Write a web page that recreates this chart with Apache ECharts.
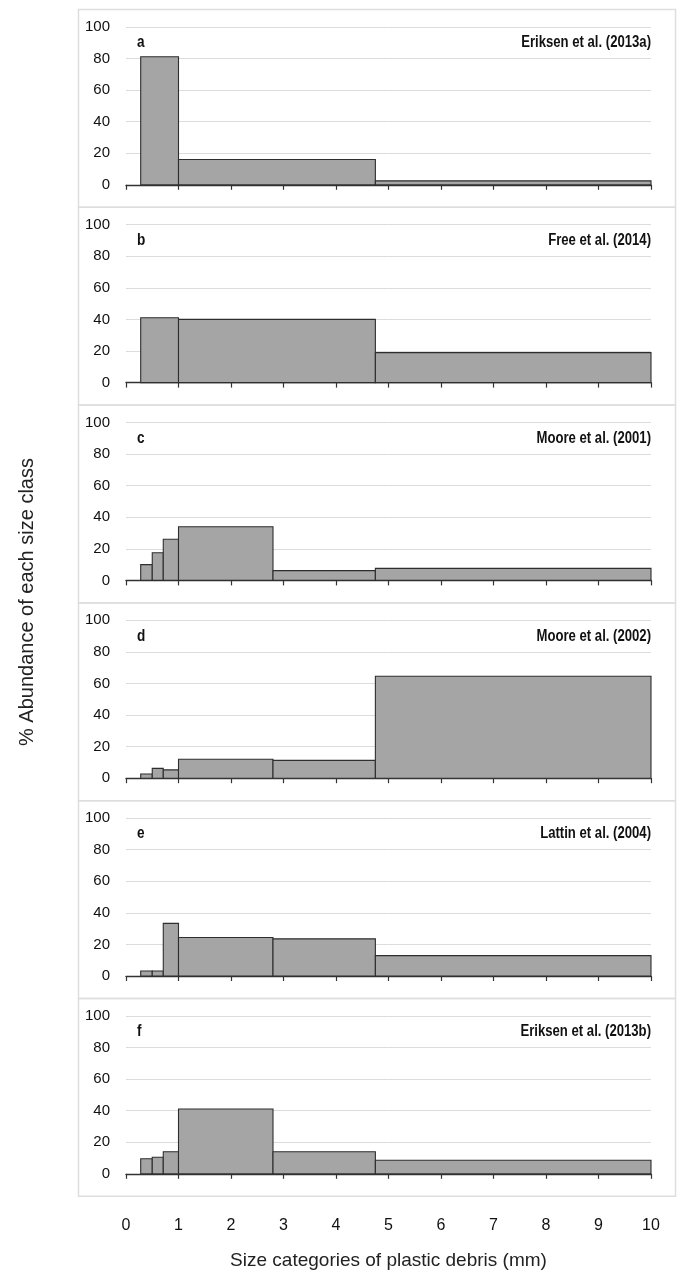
<!DOCTYPE html>
<html>
<head>
<meta charset="utf-8">
<script src="https://cdn.jsdelivr.net/npm/echarts@6/dist/echarts.min.js"></script>
<style>
html, body { margin: 0; padding: 0; background: #fff; }
#chart { width: 678px; height: 1278px; }
</style>
</head>
<body>
<div id="chart"></div>
<script>
// size class edges (mm)
const edgesFine = [0.28, 0.5, 0.71, 1, 2.8, 4.75, 10]
const edgesCoarse = [0.28, 1, 4.75, 10]

const panelLetters = ['a', 'b', 'c', 'd', 'e', 'f']
const panelSources = [
  'Eriksen et al. (2013a)',
  'Free et al. (2014)',
  'Moore et al. (2001)',
  'Moore et al. (2002)',
  'Lattin et al. (2004)',
  'Eriksen et al. (2013b)'
]

// % abundance per size class
const valuesA = [81, 16, 2.5]
const valuesB = [41, 40, 19]
const valuesC = [10, 17.5, 26, 34, 6.2, 7.6]
const valuesD = [2.7, 6.2, 5.3, 12, 11.3, 64.5]
const valuesE = [3.2, 3.2, 33.3, 24.4, 23.5, 12.9]
const valuesF = [9.5, 10.5, 14, 41, 14, 8.6]

const xTicks = [0, 1, 2, 3, 4, 5, 6, 7, 8, 9, 10]
const yTicks = [0, 20, 40, 60, 80, 100]

const panelEdges = [edgesCoarse, edgesCoarse, edgesFine, edgesFine, edgesFine, edgesFine]
const panelValues = [valuesA, valuesB, valuesC, valuesD, valuesE, valuesF]

const narrow = "'Liberation Sans Narrow', 'Arial Narrow', 'Liberation Sans', sans-serif"
const regular = "'Liberation Sans', Arial, sans-serif"

const boxTop = 7
const pitch = 197.8
const plotLeft = 126
const plotWidth = 525
const plotOffset = 19.8
const plotHeight = 158

const chart = echarts.init(document.getElementById('chart'), null, { renderer: 'canvas' })

const grids = []
const xAxes = []
const yAxes = []
const series = []
const graphics = []

panelValues.forEach((vals, i) => {
  const top = boxTop + pitch * i + plotOffset
  const isLast = i === panelValues.length - 1
  grids.push({ left: plotLeft, width: plotWidth, top: top, height: plotHeight })

  xAxes.push({
    gridIndex: i,
    type: 'value',
    min: xTicks[0],
    max: xTicks[xTicks.length - 1],
    interval: 1,
    axisLine: { lineStyle: { color: '#333', width: 1.4 } },
    axisTick: { show: true, length: 5, lineStyle: { color: '#333', width: 1.2 } },
    splitLine: { show: false },
    axisLabel: {
      show: isLast,
      margin: 44,
      color: '#111',
      fontFamily: narrow,
      fontSize: 16
    },
    name: isLast ? 'Size categories of plastic debris (mm)' : '',
    nameLocation: 'middle',
    nameGap: 77,
    nameTextStyle: { color: '#222', fontFamily: regular, fontSize: 19 }
  })

  yAxes.push({
    gridIndex: i,
    type: 'value',
    min: yTicks[0],
    max: yTicks[yTicks.length - 1],
    interval: 20,
    axisLine: { show: false },
    axisTick: { show: false },
    splitLine: { lineStyle: { color: '#dcdcdc', width: 1 } },
    axisLabel: {
      margin: 16,
      color: '#111',
      fontFamily: narrow,
      fontSize: 15
    }
  })

  const edges = panelEdges[i]
  const data = vals.map((v, k) => [edges[k], edges[k + 1], v])
  series.push({
    type: 'custom',
    xAxisIndex: i,
    yAxisIndex: i,
    data: data,
    encode: { x: [0, 1], y: 2 },
    renderItem: function (params, api) {
      const p0 = api.coord([api.value(0), api.value(2)])
      const p1 = api.coord([api.value(1), 0])
      return {
        type: 'rect',
        shape: { x: p0[0], y: p0[1], width: p1[0] - p0[0], height: p1[1] - p0[1] },
        style: { fill: '#a5a5a5', stroke: '#2e2e2e', lineWidth: 1.1 }
      }
    }
  })

  // panel frame
  graphics.push({
    type: 'rect',
    left: 76,
    top: boxTop + pitch * i,
    shape: { width: 597, height: pitch },
    style: { fill: null, stroke: '#dedede', lineWidth: 1.5 },
    z: -1
  })
  // panel letter
  graphics.push({
    type: 'text',
    x: 137,
    y: top + 16,
    scaleX: 0.85,
    style: {
      text: panelLetters[i],
      fill: '#111',
      font: "bold 16px " + narrow,
      textVerticalAlign: 'middle'
    }
  })
  // data source
  graphics.push({
    type: 'text',
    x: plotLeft + plotWidth,
    y: top + 16,
    scaleX: 0.82,
    style: {
      text: panelSources[i],
      fill: '#111',
      font: "bold 16px " + narrow,
      textAlign: 'right',
      textVerticalAlign: 'middle'
    }
  })
})

graphics.push({
  type: 'text',
  x: 27,
  y: 602,
  rotation: Math.PI / 2,
  style: {
    text: '% Abundance of each size class',
    fill: '#222',
    font: "20px " + regular,
    textAlign: 'center',
    textVerticalAlign: 'middle'
  }
})

chart.setOption({
  animation: false,
  backgroundColor: '#fff',
  grid: grids,
  xAxis: xAxes,
  yAxis: yAxes,
  series: series,
  graphic: graphics
})
</script>
</body>
</html>
